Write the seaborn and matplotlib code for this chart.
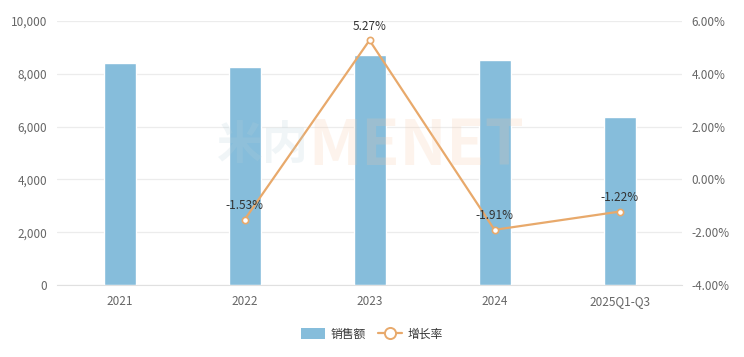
import matplotlib.pyplot as plt
import matplotlib.ticker as ticker
from matplotlib.lines import Line2D
from matplotlib.patches import Patch
import seaborn as sns
import pandas as pd

# Dados do gráfico
categorias = ['2021', '2022', '2023', '2024', '2025Q1-Q3']
vendas = [8400, 8260, 8700, 8530, 6380]
crescimento = [None, -1.53, 5.27, -1.91, -1.22]

COR_BARRA = '#86bddb'
COR_LINHA = '#e8a96b'
COR_TEXTO = '#666666'

sns.set_style("white")
plt.rcParams['font.family'] = ['Noto Sans CJK SC', 'DejaVu Sans']

df = pd.DataFrame({
    'categoria': categorias,
    'vendas': vendas,
    'crescimento': crescimento,
})
df['pos'] = range(len(df))

fig = plt.figure(figsize=(7.44, 3.57), dpi=100)
ax = fig.add_axes([57 / 744, 1 - 285 / 357, (682 - 57) / 744, (285 - 21) / 357])

sns.barplot(data=df, x='categoria', y='vendas', color=COR_BARRA,
            width=0.256, saturation=1, ax=ax)

ax.set_ylim(0, 10000)
ax.yaxis.set_major_locator(ticker.MultipleLocator(2000))
ax.yaxis.set_major_formatter(ticker.FuncFormatter(lambda y, _: f'{y:,.0f}'))
ax.grid(axis='y', color='#ececec', linewidth=0.9)
ax.set_axisbelow(True)
ax.set_xlabel('')
ax.set_ylabel('')
for s in ['top', 'left', 'right']:
    ax.spines[s].set_visible(False)
ax.spines['bottom'].set_color('#e0e0e0')
ax.tick_params(length=0, labelsize=8.5, labelcolor=COR_TEXTO, pad=7)

# Eixo secundário: taxa de crescimento
ax2 = ax.twinx()
linha = df.dropna(subset=['crescimento'])
sns.lineplot(data=linha, x='pos', y='crescimento', color=COR_LINHA,
             linewidth=1.6, marker='o', markersize=4.5,
             markerfacecolor='white', markeredgecolor=COR_LINHA,
             markeredgewidth=1.2, ax=ax2)
ax2.set_ylim(-4, 6)
ax2.yaxis.set_major_locator(ticker.MultipleLocator(2))
ax2.yaxis.set_major_formatter(ticker.FuncFormatter(lambda y, _: f'{y:.2f}%'))
ax2.set_xlabel('')
ax2.set_ylabel('')
for s in ax2.spines.values():
    s.set_visible(False)
ax2.tick_params(length=0, labelsize=8.5, labelcolor=COR_TEXTO, pad=7)
ax.set_xlim(-0.5, len(categorias) - 0.5)

for _, row in linha.iterrows():
    ax2.annotate(f"{row['crescimento']:.2f}%", (row['pos'], row['crescimento']),
                 xytext=(0, 10), textcoords='offset points',
                 ha='center', va='center', fontsize=8.5, color='#333333')

# Marca d'água
fig.text(0.415, 0.59, '米内', fontsize=33, fontweight='heavy', color='#b5cfd9',
         alpha=0.2, ha='right', va='center')
fig.text(0.415, 0.59, 'MENET', fontsize=45, fontweight='heavy', color='#f7c7a4',
         alpha=0.2, ha='left', va='center')

# Legenda
handles = [
    Patch(facecolor=COR_BARRA, edgecolor='none', label='销售额'),
    Line2D([0], [0], color=COR_LINHA, linewidth=1.6, marker='o', markersize=8,
           markerfacecolor='white', markeredgecolor=COR_LINHA,
           markeredgewidth=1.4, label='增长率'),
]
fig.legend(handles=handles, loc='center', bbox_to_anchor=(0.5, 1 - 334 / 357),
           ncol=2, frameon=False, fontsize=8.5, handlelength=2.0,
           handleheight=1.0, columnspacing=1.0, handletextpad=0.5,
           labelcolor='#333333')

plt.savefig('out.png', dpi=100)
plt.close()
